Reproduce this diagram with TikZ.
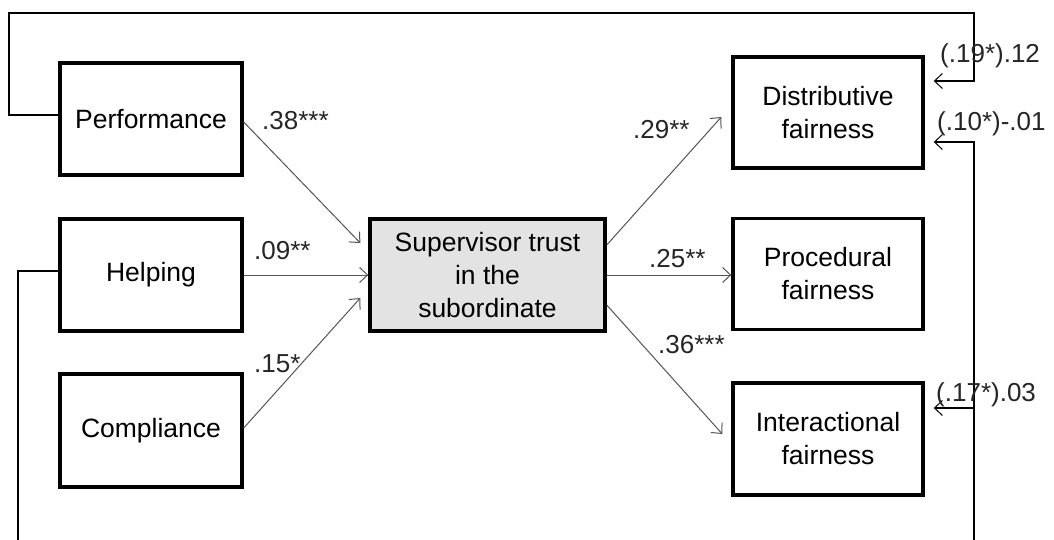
\documentclass[tikz,border=0pt]{standalone}
\usepackage{fontspec}
\setmainfont{Liberation Sans}
\usetikzlibrary{arrows.meta,calc}
\definecolor{trustfill}{HTML}{E3E3E3}
\definecolor{pathgray}{HTML}{555555}
\begin{document}
\begin{tikzpicture}[x=1pt,y=-1pt,
  box/.style={draw=black,line width=3.4pt,minimum width=182pt,minimum height=112pt,
    inner sep=0pt,align=center,font=\fontsize{26.5}{33}\selectfont},
  outbox/.style={box,minimum width=190pt,minimum height=111pt},
  tip/.style={-{Straight Barb[length=8pt,width=15pt,line width=1pt]}},
  effect/.style={draw=pathgray,line width=1pt,tip},
  feedback/.style={draw=black,line width=1.1pt},
  coef/.style={anchor=base west,inner sep=0pt,font=\fontsize{26}{31}\selectfont,text=black!85}]
\clip (0,0) rectangle (1054,539);
\fill[white] (0,0) rectangle (1054,539);

% predictors
\node[box] (perf) at (151,119) {Performance};
\node[box] (help) at (151,275) {Helping};
\node[box,minimum height=113pt] (comp) at (151,430.5) {Compliance};

% mediator
\node[box,fill=trustfill,minimum width=235pt] (trust) at (487.5,275)
  {Supervisor trust\\in the\\subordinate};

% outcomes
\node[outbox] (dist) at (828,112.5) {Distributive\\fairness};
\node[outbox] (proc) at (828,274) {Procedural\\fairness};
\node[outbox,minimum height=112pt] (inter) at (828,439) {Interactional\\fairness};

% paths into the mediator
\draw[effect] ($(perf.east)+(0,3)$) -- ($(trust.west)+(-8,-32)$);
\draw[effect] (help.east) -- (trust.west);
\draw[effect] ($(comp.east)+(0,-2.5)$) -- ($(trust.west)+(-8,23)$);

% paths out of the mediator
\draw[effect] ($(trust.east)+(0,-30)$) -- ($(dist.west)+(-10,4.5)$);
\draw[effect] (trust.east) -- (trust.east -| proc.west);
\draw[effect] ($(trust.east)+(0,30)$) -- ($(inter.west)+(-9,-5)$);

% coefficients
\node[coef] (c1) at (262,129) {.38***};
\node[coef] (c2) at (254,259) {.09**};
\node[coef] (c3) at (254,372) {.15*};
\node[coef] (c4) at (633,138) {.29**};
\node[coef] (c5) at (649,267) {.25**};
\node[coef] (c6) at (658,353) {.36***};

% direct (feedback) paths
\coordinate (tl) at (9,13);
\coordinate (bl) at (18,560);
\coordinate (rbus) at (974,0);
\draw[feedback,tip] ($(perf.west)+(0,-4)$) -| (tl) -| ($(rbus)+(0,81)$)
  -- ($(dist.east)+(9,-31.5)$);
\draw[feedback,tip] ($(help.west)+(0,-4)$) -| (bl) -| ($(rbus)+(0,142)$)
  -- ($(dist.east)+(9,29.5)$);
\draw[feedback,tip] ($(rbus)+(0,408)$) -- ($(inter.east)+(9,-31)$);

\node[coef] (d1) at (940,62) {(.19*).12};
\node[coef] (d2) at (937,130) {(.10*)-.01};
\node[coef] (d3) at (936,401) {(.17*).03};
\end{tikzpicture}
\end{document}
